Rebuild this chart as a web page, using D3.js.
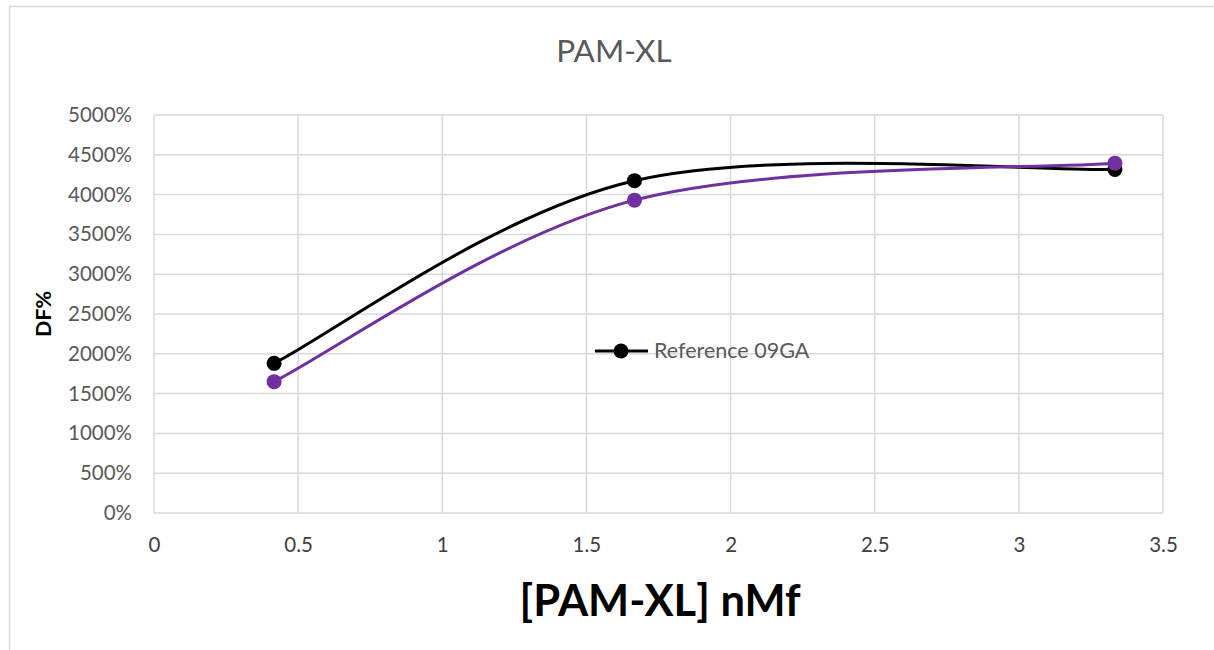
<!DOCTYPE html>
<html><head><meta charset="utf-8">
<script src="https://cdn.jsdelivr.net/npm/d3@7"></script>
<style>body{margin:0;background:#fff}svg{display:block}text{font-family:Lato,"Open Sans",sans-serif}</style>
</head><body>
<svg id="c" width="1214" height="650"></svg>
<script>
const xValues = [0.4167, 1.6667, 3.3333];
const seriesBlack = [1880, 4175, 4315];
const seriesPurple = [1650, 3930, 4395];
const xTicks = [0, 0.5, 1, 1.5, 2, 2.5, 3, 3.5];
const yTicks = [0, 500, 1000, 1500, 2000, 2500, 3000, 3500, 4000, 4500, 5000];
const legendLabel = "Reference 09GA";

// Excel-style smoothed line (Catmull-Rom with duplicated end points, factor 1/6)
function ExcelSmooth(context){ this._context = context; }
ExcelSmooth.prototype = {
  areaStart(){ this._line = 0; }, areaEnd(){ this._line = NaN; },
  lineStart(){ this._p = []; },
  point(x, y){ this._p.push([+x, +y]); },
  lineEnd(){
    const p = this._p, c = this._context, n = p.length;
    if (!n) return;
    c.moveTo(p[0][0], p[0][1]);
    for (let i = 0; i < n - 1; i++) {
      const a = p[Math.max(i - 1, 0)], b = p[i], d = p[i + 1], e = p[Math.min(i + 2, n - 1)];
      c.bezierCurveTo(b[0] + (d[0] - a[0]) / 6, b[1] + (d[1] - a[1]) / 6,
                      d[0] - (e[0] - b[0]) / 6, d[1] - (e[1] - b[1]) / 6, d[0], d[1]);
    }
  }
};

const svg = d3.select("#c");
svg.append("path").attr("d","M9.5,650V6.5H1214").attr("fill","none").attr("stroke","#d9d9d9").attr("stroke-width",1.5);

const L=154,R=1163,T=115,B=513;
const x=d3.scaleLinear().domain([0,3.5]).range([L,R]);
const y=d3.scaleLinear().domain([0,5000]).range([B,T]);

const g=svg.append("g");
g.selectAll(".vg").data(xTicks).join("line").attr("x1",d=>x(d)).attr("x2",d=>x(d)).attr("y1",T).attr("y2",B).attr("stroke","#d9d9d9").attr("stroke-width",1.5);
g.selectAll(".hg").data(yTicks).join("line").attr("x1",L).attr("x2",R).attr("y1",d=>y(d)).attr("y2",d=>y(d)).attr("stroke","#d9d9d9").attr("stroke-width",1.5);

const xa=svg.append("g").attr("transform",`translate(0,${B})`).call(d3.axisBottom(x).tickValues(xTicks).tickSize(0).tickPadding(24).tickFormat(d3.format("")));
xa.select(".domain").remove();
xa.selectAll("text").attr("font-size",20.5).attr("fill","#404040").style("font-family","Lato,'Open Sans',sans-serif");
const ya=svg.append("g").attr("transform",`translate(${L},0)`).call(d3.axisLeft(y).tickValues(yTicks).tickSize(0).tickPadding(22).tickFormat(d=>d+"%"));
ya.select(".domain").remove();
ya.selectAll("text").attr("font-size",20.5).attr("fill","#595959").style("font-family","Lato,'Open Sans',sans-serif");

const line=d3.line().x(d=>x(d[0])).y(d=>y(d[1])).curve(ctx => new ExcelSmooth(ctx));
const series=[{v:seriesBlack,c:"#000000"},{v:seriesPurple,c:"#7030a0"}];
series.forEach(s=>{
  const pts=xValues.map((xv,i)=>[xv,s.v[i]]);
  svg.append("path").attr("d",line(pts)).attr("fill","none").attr("stroke",s.c).attr("stroke-width",3);
  svg.selectAll(null).data(pts).join("circle").attr("cx",d=>x(d[0])).attr("cy",d=>y(d[1])).attr("r",7.5).attr("fill",s.c);
});

// legend
svg.append("line").attr("x1",595).attr("x2",648).attr("y1",351).attr("y2",351).attr("stroke","#000").attr("stroke-width",3);
svg.append("circle").attr("cx",621).attr("cy",351).attr("r",7.5).attr("fill","#000");
svg.append("text").attr("x",654).attr("y",358).attr("font-size",21.5).attr("fill","#595959").text(legendLabel);

svg.append("text").attr("x",614).attr("y",62).attr("text-anchor","middle").attr("font-size",31.5).attr("fill","#595959").text("PAM-XL");
svg.append("text").attr("x",660).attr("y",616).attr("text-anchor","middle").attr("font-size",43.5).attr("font-weight","bold").attr("fill","#000").text("[PAM-XL] nMf");
svg.append("text").attr("transform","translate(51,314) rotate(-90)").attr("text-anchor","middle").attr("font-size",21.5).attr("font-weight","bold").attr("fill","#000").text("DF%");
</script>
</body></html>
